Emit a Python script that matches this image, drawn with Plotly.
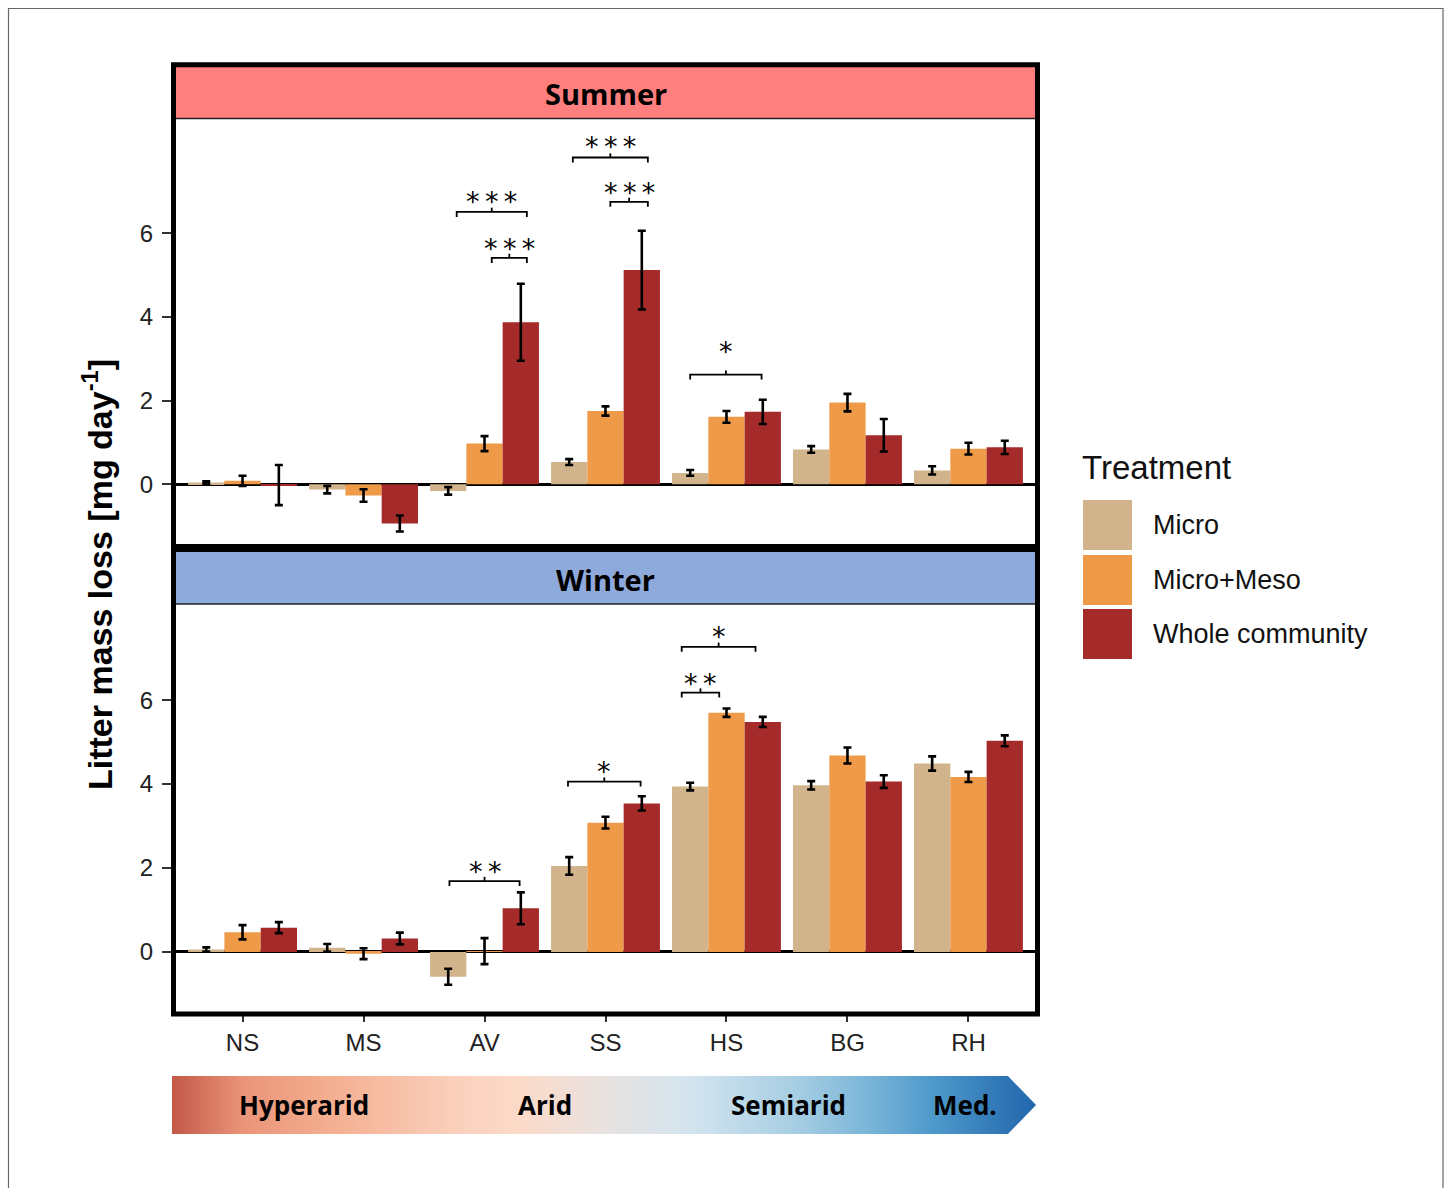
import plotly.graph_objects as go

# ---------------- data ----------------
sites = ["NS", "MS", "AV", "SS", "HS", "BG", "RH"]
treatments = ["Micro", "Micro+Meso", "Whole community"]
colors = ["#D2B48C", "#EE9A49", "#A52A2A"]

summer_micro = [0.04, -0.13, -0.16, 0.53, 0.27, 0.83, 0.33]
summer_micro_err = [0.03, 0.09, 0.09, 0.07, 0.07, 0.08, 0.10]
summer_meso = [0.08, -0.27, 0.97, 1.75, 1.61, 1.95, 0.85]
summer_meso_err = [0.12, 0.15, 0.18, 0.11, 0.14, 0.21, 0.14]
summer_whole = [-0.02, -0.94, 3.87, 5.12, 1.73, 1.17, 0.88]
summer_whole_err = [0.48, 0.19, 0.92, 0.94, 0.29, 0.39, 0.16]

winter_micro = [0.06, 0.10, -0.59, 2.05, 3.94, 3.97, 4.49]
winter_micro_err = [0.05, 0.09, 0.19, 0.21, 0.09, 0.10, 0.17]
winter_meso = [0.47, -0.04, 0.02, 3.08, 5.70, 4.68, 4.17]
winter_meso_err = [0.17, 0.13, 0.31, 0.14, 0.10, 0.19, 0.12]
winter_whole = [0.58, 0.32, 1.04, 3.54, 5.48, 4.06, 5.03]
winter_whole_err = [0.13, 0.14, 0.38, 0.17, 0.12, 0.15, 0.13]

y_ticks = [0, 2, 4, 6]
seasons = ["Summer", "Winter"]
strip_colors = ["#FF7F7F", "#8EA9DB"]

# significance brackets: (season, site, left edge, right edge (offset from site centre), bracket level, label level, label)
brackets = [
    ("Summer", "AV", -0.23, 0.35, 6.51, 6.90, "***"),
    ("Summer", "AV", 0.06, 0.35, 5.41, 5.78, "***"),
    ("Summer", "SS", -0.27, 0.35, 7.81, 8.21, "***"),
    ("Summer", "SS", 0.04, 0.35, 6.75, 7.11, "***"),
    ("Summer", "HS", -0.30, 0.29, 2.62, 3.32, "*"),
    ("Winter", "AV", -0.29, 0.29, 1.69, 2.07, "**"),
    ("Winter", "SS", -0.31, 0.29, 4.06, 4.45, "*"),
    ("Winter", "HS", -0.37, 0.24, 7.27, 7.67, "*"),
    ("Winter", "HS", -0.37, -0.06, 6.18, 6.55, "**"),
]

climate_labels = ["Hyperarid", "Arid", "Semiarid", "Med."]
climate_pos = [0.153, 0.431, 0.713, 0.917]   # fraction along the arrow
gradient_stops = [
    (0.00, "#C45A4A"), (0.08, "#EA9479"), (0.18, "#F4AE90"), (0.33, "#FAD0BC"),
    (0.40, "#FCDAC8"), (0.50, "#E8E2E0"), (0.60, "#D2E4EF"), (0.72, "#A7CEE3"),
    (0.80, "#7DB7D9"), (0.88, "#4E99CB"), (1.00, "#2166AC"),
]

# ---------------- layout helpers ----------------
W, H = 1448, 1188


def px(x):
    return x / W


def py(y):
    return 1 - y / H


X0, X1 = 176, 1035
TOP = (119, 544)
BOT = (604, 1012)

fig = go.Figure()

season_data = {
    "Summer": [(summer_micro, summer_micro_err), (summer_meso, summer_meso_err), (summer_whole, summer_whole_err)],
    "Winter": [(winter_micro, winter_micro_err), (winter_meso, winter_meso_err), (winter_whole, winter_whole_err)],
}

for si, season in enumerate(seasons):
    xa = "x" if si == 0 else "x2"
    ya = "y" if si == 0 else "y2"
    for ti, (vals, errs) in enumerate(season_data[season]):
        fig.add_trace(go.Bar(
            x=sites, y=vals, name=treatments[ti], marker_color=colors[ti],
            marker_line_width=0, offsetgroup=str(ti),
            error_y=dict(type="data", array=errs, color="black", thickness=2.6, width=4),
            xaxis=xa, yaxis=ya, showlegend=False,
        ))

axis_font = dict(family="Liberation Sans, Arial", size=24, color="#222")
common_x = dict(type="category", range=[-0.55, 6.55], showgrid=False, showline=False,
                zeroline=False, domain=[px(X0), px(X1)], tickfont=axis_font)
fig.update_layout(
    xaxis=dict(**common_x, anchor="y", showticklabels=False, ticks=""),
    xaxis2=dict(**common_x, anchor="y2", ticks="outside", ticklen=9, tickwidth=1.5,
                tickcolor="#333"),
    yaxis=dict(range=[-1.43, 8.73], domain=[py(TOP[1]), py(TOP[0])], tickvals=y_ticks,
               ticks="outside", ticklen=13, tickwidth=1.5, tickcolor="#333", showgrid=False,
               zeroline=True, zerolinecolor="black", zerolinewidth=2.6, showline=False,
               tickfont=axis_font, anchor="x", ticklabelstandoff=4),
    yaxis2=dict(range=[-1.43, 8.29], domain=[py(BOT[1]), py(BOT[0])], tickvals=y_ticks,
                ticks="outside", ticklen=13, tickwidth=1.5, tickcolor="#333", showgrid=False,
                zeroline=True, zerolinecolor="black", zerolinewidth=2.6, showline=False,
                tickfont=axis_font, anchor="x2", ticklabelstandoff=4),
    barmode="group", bargap=0.1, bargroupgap=0,
    width=W, height=H, margin=dict(l=0, r=0, t=0, b=0), autosize=False,
    plot_bgcolor="white", paper_bgcolor="white",
)

# ---------------- gradient arrow (heatmap on its own axes) ----------------
ncol = 300
fig.add_trace(go.Heatmap(
    z=[list(range(ncol))], x=list(range(ncol)), y=[0],
    colorscale=[[p, c] for p, c in gradient_stops], showscale=False,
    zsmooth="best", hoverinfo="skip", xaxis="x3", yaxis="y3",
))
AR_X0, AR_X1, AR_TIP0 = 172, 1037, 1006
AR_Y0, AR_Y1 = 1076, 1134
fig.update_layout(
    xaxis3=dict(domain=[px(AR_X0), px(AR_X1)], range=[-0.5, ncol - 0.5], visible=False, anchor="y3"),
    yaxis3=dict(domain=[py(AR_Y1), py(AR_Y0)], range=[-0.5, 0.5], visible=False, anchor="x3"),
)

shapes = []
annotations = []

# white cut-outs to form arrow head
mid = (AR_Y0 + AR_Y1) / 2
shapes.append(dict(type="path", xref="paper", yref="paper", layer="above",
                   path=f"M {px(AR_TIP0)},{py(AR_Y0 - 2)} L {px(AR_X1 + 2)},{py(AR_Y0 - 2)} "
                        f"L {px(AR_X1 + 2)},{py(mid)} L {px(AR_X1 - 1)},{py(mid)} Z",
                   fillcolor="white", line=dict(width=0)))
shapes.append(dict(type="path", xref="paper", yref="paper", layer="above",
                   path=f"M {px(AR_TIP0)},{py(AR_Y1 + 2)} L {px(AR_X1 + 2)},{py(AR_Y1 + 2)} "
                        f"L {px(AR_X1 + 2)},{py(mid)} L {px(AR_X1 - 1)},{py(mid)} Z",
                   fillcolor="white", line=dict(width=0)))
for lab, pos in zip(climate_labels, climate_pos):
    annotations.append(dict(xref="paper", yref="paper", x=px(AR_X0 + pos * (AR_X1 - AR_X0)), y=py(mid),
                            text=f"<b>{lab}</b>", showarrow=False, xanchor="center", yanchor="middle",
                            font=dict(family="Open Sans", size=26, color="black")))

# ---------------- strips and frames ----------------
strips = [(67, 118.5), (552, 604)]
for si, season in enumerate(seasons):
    s0, s1 = strips[si]
    shapes.append(dict(type="rect", xref="paper", yref="paper", x0=px(X0), x1=px(X1),
                       y0=py(s1), y1=py(s0), fillcolor=strip_colors[si], line=dict(width=0)))
    shapes.append(dict(type="line", xref="paper", yref="paper", x0=px(X0), x1=px(X1),
                       y0=py(s1), y1=py(s1), line=dict(color="#222", width=1.3)))
    annotations.append(dict(xref="paper", yref="paper", x=px((X0 + X1) / 2), y=py((s0 + s1) / 2 + 1),
                            text=f"<b>{season}</b>", showarrow=False, xanchor="center", yanchor="middle",
                            font=dict(family="Open Sans", size=29, color="black")))

shapes.append(dict(type="rect", xref="paper", yref="paper", x0=px(173.5), x1=px(1037.5),
                   y0=py(546.5), y1=py(64.8), line=dict(color="black", width=5)))
shapes.append(dict(type="rect", xref="paper", yref="paper", x0=px(173.5), x1=px(1037.5),
                   y0=py(1014), y1=py(549.5), line=dict(color="black", width=5)))

# outer figure border
shapes.append(dict(type="rect", xref="paper", yref="paper", x0=px(8.5), x1=px(1443), y0=py(1195),
                   y1=py(8.5), line=dict(color="#666", width=1.2)))

# ---------------- significance brackets ----------------
for season, site, left, right, level, lab_level, lab in brackets:
    ci = sites.index(site)
    xa = "x" if season == "Summer" else "x2"
    ya = "y" if season == "Summer" else "y2"
    xl, xr = ci + left, ci + right
    xc = (xl + xr) / 2
    tick = 0.12
    shapes.append(dict(type="path", xref=xa, yref=ya,
                       path=f"M {xl},{level - tick} L {xl},{level} L {xr},{level} L {xr},{level - tick}",
                       line=dict(color="black", width=1.8)))
    shapes.append(dict(type="line", xref=xa, yref=ya, x0=xc, x1=xc, y0=level, y1=level + 0.1,
                       line=dict(color="black", width=1.8)))
    annotations.append(dict(xref=xa, yref=ya, x=xc, y=lab_level, text="\u2009".join(lab), showarrow=False,
                            xanchor="center", yanchor="middle", yshift=-6,
                            font=dict(family="DejaVu Sans", size=27, color="black")))

# ---------------- legend (drawn) ----------------
annotations.append(dict(xref="paper", yref="paper", x=px(1080), y=py(467), text="Treatment",
                        showarrow=False, xanchor="left", yanchor="middle",
                        font=dict(family="Liberation Sans, Arial", size=33, color="#111")))
key_tops = [500, 555, 609]
for ti, t in enumerate(treatments):
    k0 = key_tops[ti]
    shapes.append(dict(type="rect", xref="paper", yref="paper", x0=px(1083), x1=px(1132),
                       y0=py(k0 + 50), y1=py(k0), fillcolor=colors[ti], line=dict(width=0)))
    annotations.append(dict(xref="paper", yref="paper", x=px(1151), y=py(k0 + 25), text=t,
                            showarrow=False, xanchor="left", yanchor="middle",
                            font=dict(family="Liberation Sans, Arial", size=27, color="#111")))

# ---------------- y title ----------------
annotations.append(dict(xref="paper", yref="paper", x=px(97), y=py(575),
                        text="<b>Litter mass loss [mg day<sup>-1</sup>]</b>", textangle=-90,
                        showarrow=False, xanchor="center", yanchor="middle",
                        font=dict(family="Liberation Sans, Arial", size=34, color="black")))

fig.update_layout(shapes=shapes, annotations=annotations)
fig.write_html("out.html", config={"displayModeBar": False},
               post_script="document.body.style.margin='0px';")
